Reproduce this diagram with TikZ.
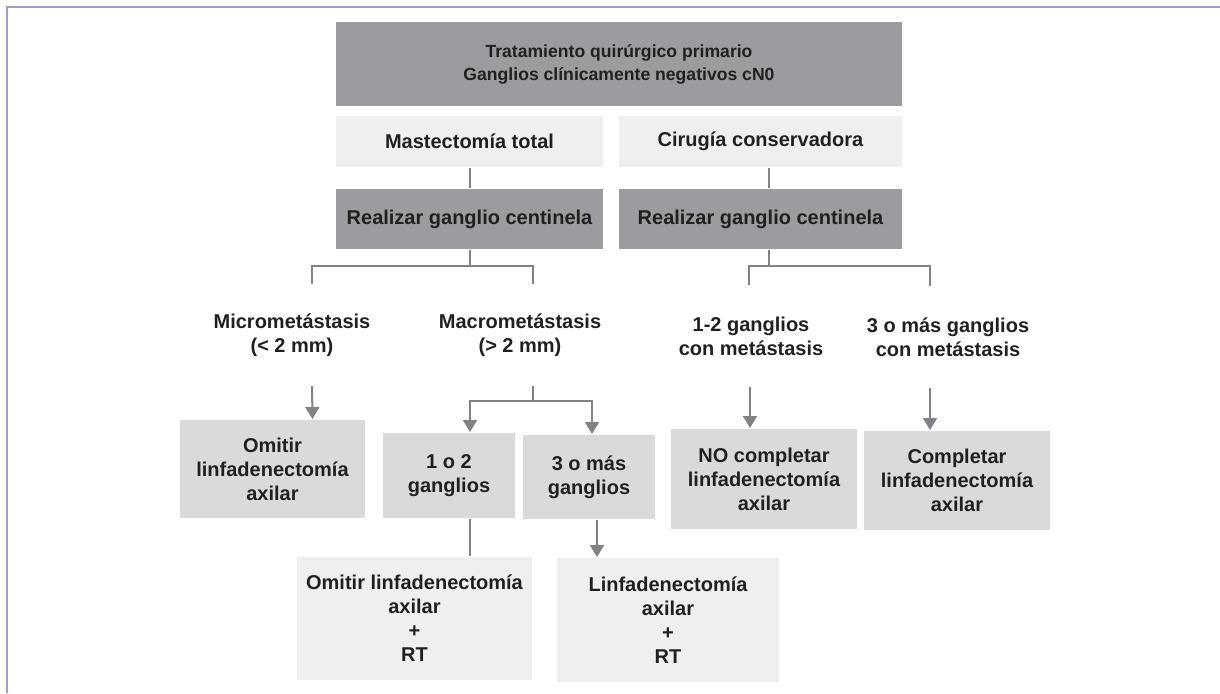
\documentclass[tikz,border=0pt]{standalone}
\usepackage{fontspec}
\setmainfont{Liberation Sans}
\usetikzlibrary{arrows.meta,positioning}

\definecolor{boxdark}{RGB}{155,156,159}
\definecolor{boxmid}{RGB}{217,218,219}
\definecolor{boxpale}{RGB}{239,239,239}
\definecolor{linegray}{RGB}{128,130,133}
\definecolor{inktext}{RGB}{35,31,32}
\definecolor{framelilac}{RGB}{160,157,211}

\begin{document}
\begin{tikzpicture}[
    x = 0.5pt, y = -0.5pt, % one unit per pixel, y downwards
    > = {Triangle[width=7pt,length=6pt]}, % arrow head style
    node distance = 10pt, % gap between stacked boxes
    line width = 1pt,
    font = \fontsize{10pt}{12pt}\selectfont\bfseries,
    text = inktext
    ]

    \tikzset{
    box/.style = {align=center, inner sep=0pt},
    darkbox/.style = {box, fill=boxdark},
    midbox/.style = {box, fill=boxmid},
    palebox/.style = {box, fill=boxpale},
    tag/.style = {align=center, inner sep=0pt, minimum height=50pt},
    conn/.style = {draw=linegray},
    arr/.style = {conn, ->}
    }

    \useasboundingbox (0,0) rectangle (1220,693);
    \draw[framelilac] (7,693) -- (7,7) -- (1220,7);

    % top rows
    \node[darkbox, minimum width=283pt, minimum height=42pt,
          font=\fontsize{8.8pt}{11.5pt}\selectfont\bfseries] (top) at (619,64)
        {Tratamiento quirúrgico primario\\Ganglios clínicamente negativos cN0};
    \node[palebox, minimum width=133.5pt, minimum height=25.5pt] (mast) at (469.5,141.5) {Mastectomía total};
    \node[palebox, minimum width=141.5pt, minimum height=25.5pt] (ciru) at (760.5,141.5) {Cirugía conservadora};
    \node[darkbox, minimum width=133.5pt, minimum height=30pt] (gcL) [below=of mast] {Realizar ganglio centinela};
    \node[darkbox, minimum width=141.5pt, minimum height=30pt] (gcR) [below=of ciru] {Realizar ganglio centinela};

    % labels on the branches
    \node[tag] (micro) at (292,335) {Micrometástasis\\(< 2 mm)};
    \node[tag] (macro) at (520,335) {Macrometástasis\\(> 2 mm)};
    \node[tag] (dosg) at (751,336) {1-2 ganglios\\con metástasis};
    \node[tag] (tresg) at (948,337) {3 o más ganglios\\con metástasis};

    % decisions
    \node[midbox, minimum width=92.5pt, minimum height=49pt] (omit) at (272.5,469) {Omitir\\linfadenectomía\\axilar};
    \node[midbox, minimum width=66pt, minimum height=42.5pt] (g12) at (449,475.5) {1 o 2\\ganglios};
    \node[midbox, minimum width=66pt, minimum height=42pt] (g3) at (589,477) {3 o más\\ganglios};
    \node[midbox, minimum width=93pt, minimum height=50pt] (nocomp) at (764,479) {NO completar\\linfadenectomía\\axilar};
    \node[midbox, minimum width=93pt, minimum height=49.5pt] (comp) at (957,480.5) {Completar\\linfadenectomía\\axilar};
    \node[palebox, minimum width=117.5pt, minimum height=61.5pt] (omrt) at (414.5,618.5) {Omitir linfadenectomía\\axilar\\+\\RT};
    \node[palebox, minimum width=111pt, minimum height=62pt] (linrt) at (668,620) {Linfadenectomía\\axilar\\+\\RT};

    % connectors
    \draw[conn] (mast.south) -- (gcL.north);
    \draw[conn] ([xshift=4pt]ciru.south) -- ([xshift=4pt]gcR.north);

    \draw[conn] (gcL.south) -- ++(0,16) coordinate (jL);
    \draw[conn] ([xshift=10pt]micro.north) |- (jL) -| ([xshift=6.5pt]macro.north);
    \draw[arr] ([xshift=10pt]micro.south) -- ([xshift=20pt]omit.north);
    \draw[conn] ([xshift=6.5pt]macro.south) -- ++(0,15) coordinate (jM);
    \draw[arr] (jM) -| ([xshift=10.5pt]g12.north);
    \draw[arr] (jM) -| ([xshift=1.5pt]g3.north);
    \draw[conn] ([xshift=10.5pt]g12.south) -- ([xshift=27.75pt]omrt.north);
    \draw[arr] ([xshift=4pt]g3.south) -- ([xshift=-35.5pt]linrt.north);

    \draw[conn] ([xshift=4pt]gcR.south) -- ++(0,16) coordinate (jR);
    \draw[conn] ([xshift=-1pt]dosg.north) |- (jR) -| ([xshift=-9pt]tresg.north);
    \draw[arr] ([xshift=-0.5pt]dosg.south) -- ([xshift=-7pt]nocomp.north);
    \draw[arr] ([xshift=-9pt]tresg.south) -- ([xshift=-13.5pt]comp.north);

\end{tikzpicture}
\end{document}
